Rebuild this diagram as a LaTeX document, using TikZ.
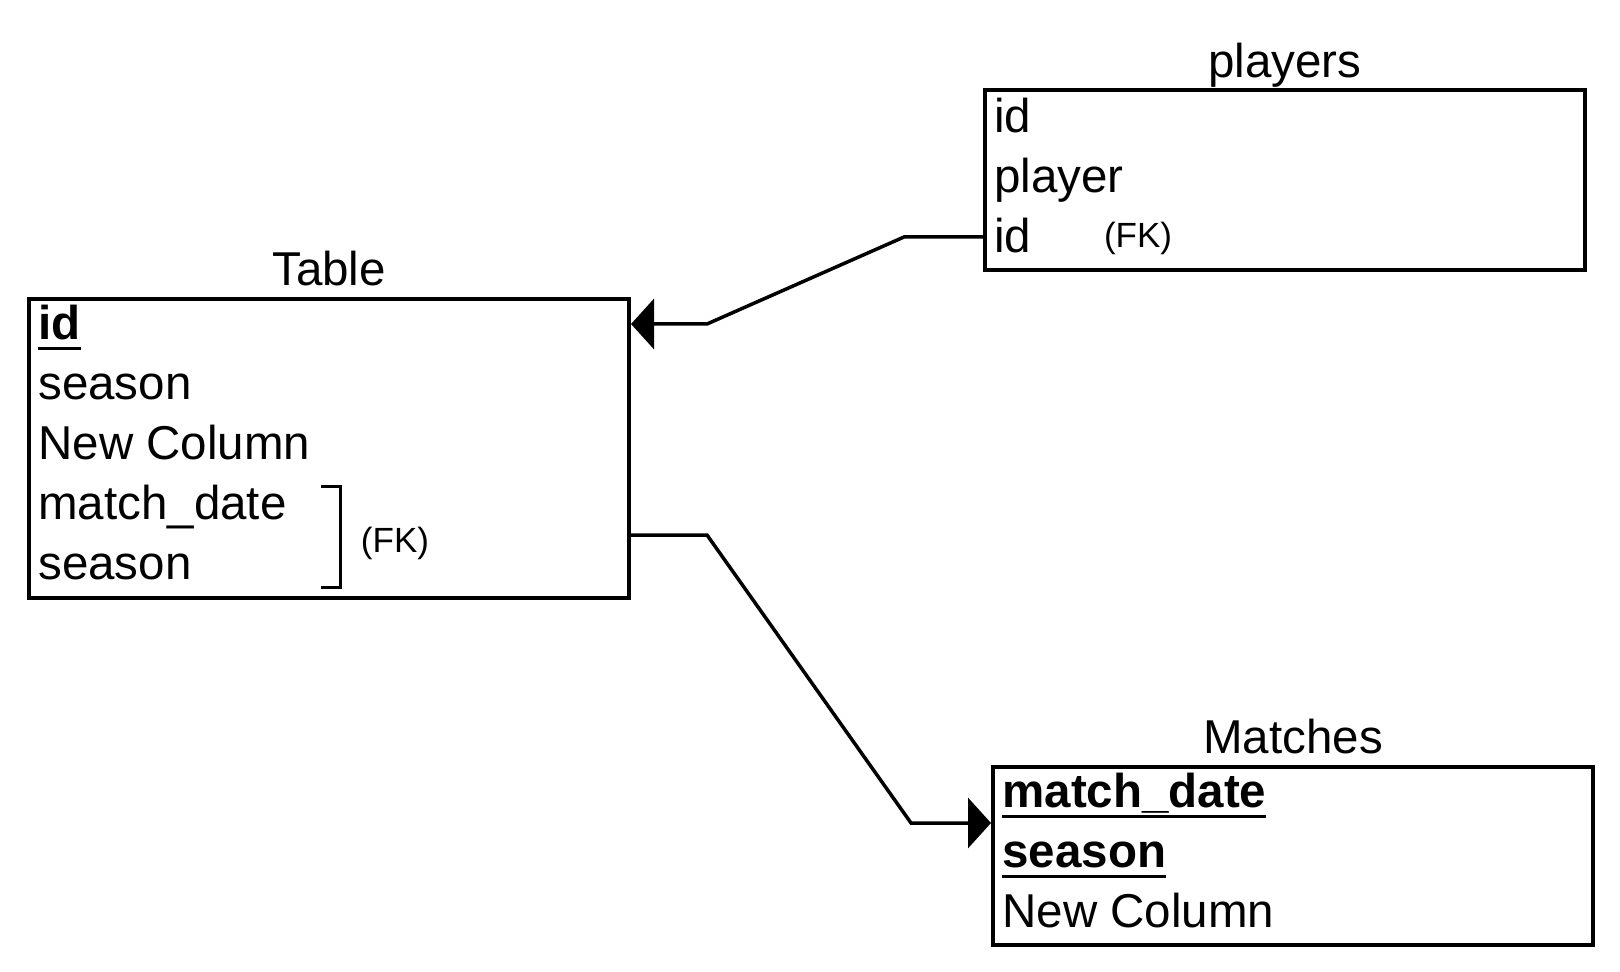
\documentclass[tikz,border=0pt]{standalone}
\usepackage{fontspec}
\setmainfont{Liberation Sans}
\usetikzlibrary{positioning,arrows.meta}

\newcommand{\pkey}[1]{\setbox0\hbox{\bfseries #1}\rlap{\rule[-5.25pt]{\wd0}{1.5pt}}\box0}

\begin{document}
\begin{tikzpicture}[x=0.5pt,y=-0.5pt,
  table/.style={draw,line width=2pt,inner sep=0pt,minimum width=300pt,anchor=north west},
  title/.style={font=\fontsize{23.75}{28}\selectfont,inner sep=0pt,text height=0.72em,text depth=0pt},
  field/.style={font=\fontsize{23.75}{28}\selectfont,inner sep=0pt,anchor=west,text height=0.72em,text depth=0pt},
  fk/.style={font=\fontsize{17.5}{20}\selectfont,inner sep=0pt,text height=0.72em,text depth=0pt},
  rel/.style={line width=1.75pt,-{Triangle[length=11.5pt,width=25pt]}}]

  \useasboundingbox (0,0) rectangle (1620,972);

  \node[table,minimum height=149.5pt] (tbl) at (27,297) {};
  \node[title] (tbl_t) [above=5.5pt of tbl] {Table};
    \node[field] (t_id) at (38,332) {\pkey{id}};
    \node[field] (t_season) at (38,392) {season};
    \node[field] (t_new) at (38,452) {New Column};
    \node[field] (t_date) at (38,512) {match\_date};
    \node[field] (t_season2) at (38,572) {season};
    \node[fk] (t_fk) at (395,545) {(FK)};
    \draw[line width=1.5pt] (321,486) -| (340,587) -- (321,587);

  \node[table,minimum height=90pt] (pl) at (983,88) {};
  \node[title] (pl_t) [above=5pt of pl] {players};
    \node[field] (p_id) at (994,125) {id};
    \node[field] (p_player) at (994,185) {player};
    \node[field] (p_id2) at (994,245) {id};
    \node[fk] (p_fk) at (1138,240) {(FK)};

  \node[table,minimum height=89pt] (ma) at (991,765) {};
  \node[title] (ma_t) [above=5.5pt of ma] {Matches};
    \node[field] (m_date) at (1002,800) {\pkey{match\_date}};
    \node[field] (m_season) at (1002,860) {\pkey{season}};
    \node[field] (m_new) at (1002,920) {New Column};

  % players.id -> Table.id
  \coordinate (c1) at (904,237);
  \coordinate (c2) at (707,324);
  \draw[rel] (pl.west |- c1) -- (c1) -- (c2) -- (tbl.east |- c2);

  % Table (match_date, season) -> Matches
  \coordinate (c3) at (627,535);
  \coordinate (c4) at (707,535);
  \coordinate (c5) at (911,823);
  \draw[rel] (c3) -- (c4) -- (c5) -- (ma.west |- c5);

\end{tikzpicture}
\end{document}
